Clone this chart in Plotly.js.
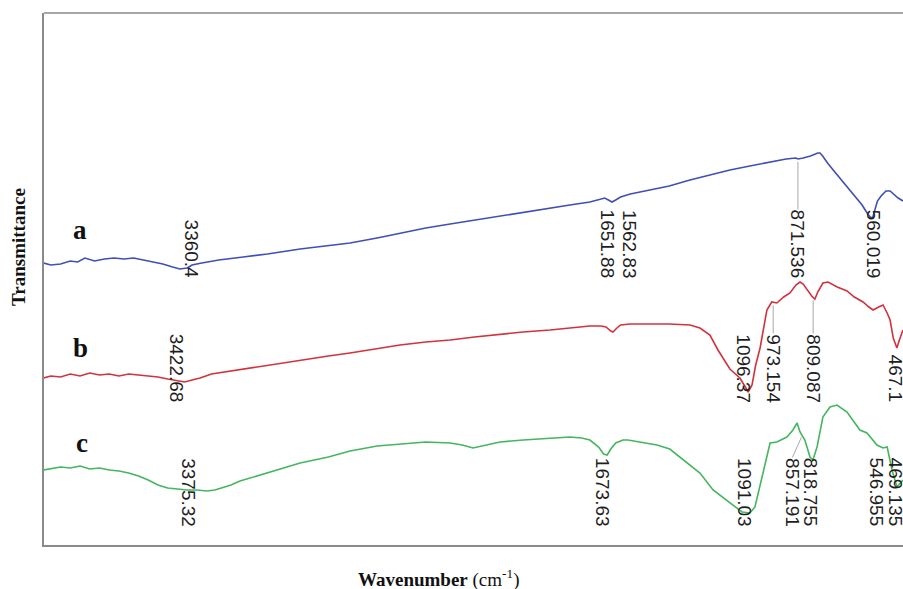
<!DOCTYPE html>
<html>
<head>
<meta charset="utf-8">
<script src="https://cdn.plot.ly/plotly-3.0.1.min.js"></script>
<style>
html,body{margin:0;padding:0;background:#fff;}
#chart{width:903px;height:589px;}
</style>
</head>
<body>
<div id="chart"></div>
<script>
// ---------- data ----------
const seriesNames = ['a', 'b', 'c'];

const wavenumberA = [3971,3940,3900,3860,3830,3800,3760,3720,3680,3640,3600,3560,3520,3480,3440,3410,3380,3360,3320,3250,3150,3050,2916,2800,2711,2600,2506,2400,2300,2200,2095,2000,1890,1808,1726,1680,1665,1650,1635,1620,1600,1560,1500,1400,1315,1233,1151,1069,986,920,880,871,850,820,790,781,770,750,720,690,658,630,608,590,575,565,555,545,530,510,493,475,460,440];
const transA = [56.4,56.0,56.2,56.8,56.6,57.4,56.8,57.2,57.4,57.2,57.4,57.0,56.6,56.2,55.6,55.2,55.4,56.0,56.4,57.0,57.6,58.2,59.2,59.8,60.4,61.4,62.4,63.4,64.2,65.0,65.8,66.6,67.4,68.0,68.6,69.2,69.4,69.0,68.6,69.0,69.6,70.2,70.8,71.8,73.0,74.0,75.0,75.8,76.6,77.2,77.4,77.2,77.4,77.8,78.4,78.4,77.8,76.4,74.6,72.8,71.0,69.4,68.0,66.6,65.6,65.4,67.4,68.8,69.8,70.8,70.8,70.0,69.4,68.8];

const wavenumberB = [3971,3940,3900,3860,3820,3780,3740,3700,3660,3620,3580,3540,3500,3460,3420,3390,3360,3327,3280,3200,3163,3080,2916,2800,2711,2600,2506,2400,2300,2200,2095,2000,1890,1808,1726,1680,1660,1640,1631,1615,1600,1560,1500,1400,1315,1274,1233,1200,1151,1110,1090,1076,1060,1045,1027,1010,999,979,958,930,904,880,863,850,834,815,802,790,769,748,710,670,640,604,580,563,540,522,505,493,480,465,455,440];
const transB = [33.4,33.8,33.6,34.2,33.8,34.4,34.0,34.2,33.8,34.2,34.0,33.8,33.6,33.2,32.8,32.6,33.0,33.4,34.2,34.8,35.2,35.8,37.0,37.8,38.4,39.2,40.0,40.6,41.0,41.6,42.2,42.6,43.0,43.4,43.8,43.8,43.6,42.8,42.6,43.4,44.0,44.2,44.2,44.2,44.0,43.4,42.0,39.0,35.2,33.4,31.8,30.6,32.0,36.0,39.4,44.6,47.0,48.6,48.4,49.6,50.4,52.0,52.6,52.2,51.0,49.8,49.2,50.6,52.4,52.6,51.6,50.8,49.6,48.6,47.6,47.0,47.6,48.0,46.4,45.0,41.4,39.4,41.0,43.0];

const wavenumberC = [3971,3940,3900,3860,3820,3780,3740,3700,3660,3620,3580,3540,3500,3460,3420,3380,3340,3300,3266,3200,3163,3080,3000,2916,2800,2711,2600,2506,2400,2300,2250,2206,2150,2095,2000,1890,1808,1760,1726,1690,1670,1655,1640,1620,1590,1570,1521,1450,1398,1356,1300,1274,1220,1151,1101,1069,1048,1015,986,958,917,892,875,863,843,822,810,793,769,740,711,670,617,588,547,522,505,485,465,440];
const transC = [15.0,15.2,15.6,15.4,15.8,15.2,15.4,15.0,14.8,14.4,13.8,13.0,12.0,11.4,11.2,11.0,11.0,10.8,11.0,12.0,12.8,14.0,15.2,16.4,17.6,18.8,19.8,20.2,20.6,20.4,20.0,19.4,20.0,20.6,21.0,21.4,21.6,21.4,21.0,19.6,18.2,18.0,19.2,20.4,21.0,21.0,20.6,20.0,19.2,17.6,15.4,14.4,11.0,8.4,6.6,6.4,7.6,14.4,20.4,20.6,21.6,23.0,24.4,22.6,21.0,17.6,17.0,19.6,25.6,27.6,28.0,26.6,23.0,22.4,20.0,19.4,19.6,15.0,11.6,13.0];

const peaksA = [3360.4, 1651.88, 1562.83, 871.536, 560.019];
const peakLabelsA = ['3360.4', '1651.88', '1562.83', '871.536', '560.019'];
const peaksB = [3422.68, 1096.37, 973.154, 809.087, 467.1];
const peakLabelsB = ['3422.68', '1096.37', '973.154', '809.087', '467.1'];
const peaksC = [3375.32, 1673.63, 1091.03, 857.191, 818.755, 546.955, 469.135];
const peakLabelsC = ['3375.32', '1673.63', '1091.03', '857.191', '818.755', '546.955', '469.135'];

// ---------- styling / layout ----------
const colors = ['#3f4fb5', '#d2323c', '#45b55f'];
const xRange = [3968, 440];
const yRange = [0, 106.4];
const margin = {l: 44, r: 0, t: 13, b: 44};
const W = 903, H = 589;
const plotW = W - margin.l - margin.r;
const plotH = H - margin.t - margin.b;
const pxPerWn = plotW / (xRange[0] - xRange[1]);
const pxPerT = plotH / (yRange[1] - yRange[0]);

const labelFontSize = 19;
const labelBottom = [53.0, 28.2, 3.4];         // where label text ends (data units)
const leaderPeaks = [[871.536], [973.154, 809.087], [857.191]];
const labelPixelShift = {'857.191': -9};

const wn = [wavenumberA, wavenumberB, wavenumberC];
const tr = [transA, transB, transC];
const peaks = [peaksA, peaksB, peaksC];
const peakLabels = [peakLabelsA, peakLabelsB, peakLabelsC];

function interp(xs, ys, x) {
  for (let i = 0; i < xs.length - 1; i++) {
    const x0 = xs[i], x1 = xs[i + 1];
    if ((x <= x0 && x >= x1) || (x >= x0 && x <= x1)) {
      const t = (x - x0) / (x1 - x0);
      return ys[i] + t * (ys[i + 1] - ys[i]);
    }
  }
  return ys[ys.length - 1];
}

function textLenPx(s) {
  let em = 0;
  for (const ch of s) em += (ch === '.') ? 0.278 : 0.556;
  return em * labelFontSize;
}

const traces = seriesNames.map((n, i) => ({
  x: wn[i], y: tr[i], type: 'scatter', mode: 'lines', name: n,
  line: {color: colors[i], width: 1.6}, hoverinfo: 'skip'
}));

const annotations = [];
const shapes = [];

for (let s = 0; s < 3; s++) {
  peaks[s].forEach((p, k) => {
    const label = peakLabels[s][k];
    const shiftPx = labelPixelShift[label] || 0;
    annotations.push({
      x: p, y: labelBottom[s], xref: 'x', yref: 'y',
      text: label, textangle: 90, showarrow: false,
      xanchor: 'center', yanchor: 'bottom', xshift: shiftPx, borderpad: 0,
      font: {family: 'Liberation Sans, Arial, sans-serif', size: labelFontSize, color: '#1e1e1e'}
    });
    if (leaderPeaks[s].includes(p)) {
      const curveT = interp(wn[s], tr[s], p);
      const topT = labelBottom[s] + (textLenPx(label) + 2) / pxPerT;
      shapes.push({
        type: 'line', xref: 'x', yref: 'y',
        x0: p, y0: curveT - 0.6,
        x1: p - shiftPx / pxPerWn, y1: topT,
        line: {color: '#a8a8a8', width: 1}
      });
    }
  });
}

// top frame line
shapes.push({type: 'line', xref: 'paper', yref: 'paper', x0: 0, x1: 1, y0: 1, y1: 1,
  line: {color: '#8a8a8a', width: 1.6}});

// series letters
const letterPos = [[80, 230], [80, 348], [82, 443]];
seriesNames.forEach((n, i) => {
  annotations.push({
    xref: 'paper', yref: 'paper',
    x: (letterPos[i][0] - margin.l) / plotW, y: (H - margin.b - letterPos[i][1]) / plotH,
    text: '<b>' + n + '</b>', showarrow: false, xanchor: 'center', yanchor: 'middle',
    font: {family: 'Liberation Serif, Times New Roman, serif', size: 27, color: '#111'}
  });
});

// axis titles
annotations.push({
  xref: 'paper', yref: 'paper', x: (18 - margin.l) / plotW, y: (H - margin.b - 247) / plotH,
  text: '<b>Transmittance</b>', textangle: -90, showarrow: false,
  xanchor: 'center', yanchor: 'middle',
  font: {family: 'Liberation Serif, Times New Roman, serif', size: 19, color: '#111'}
});
annotations.push({
  xref: 'paper', yref: 'paper', x: (438 - margin.l) / plotW, y: (H - margin.b - 578) / plotH,
  text: '<b>Wavenumber</b> (cm<sup>-1</sup>)', showarrow: false,
  xanchor: 'center', yanchor: 'middle',
  font: {family: 'Liberation Serif, Times New Roman, serif', size: 19, color: '#111'}
});

const layout = {
  width: W, height: H, margin: margin,
  paper_bgcolor: '#fff', plot_bgcolor: '#fff',
  showlegend: false,
  xaxis: {range: xRange, autorange: false, showgrid: false, zeroline: false,
    showticklabels: false, ticks: '', showline: true, linecolor: '#8a8a8a', linewidth: 1.6},
  yaxis: {range: yRange, autorange: false, showgrid: false, zeroline: false,
    showticklabels: false, ticks: '', showline: true, linecolor: '#8a8a8a', linewidth: 1.6},
  annotations: annotations,
  shapes: shapes
};

Plotly.newPlot('chart', traces, layout, {displayModeBar: false, staticPlot: true});
</script>
</body>
</html>
